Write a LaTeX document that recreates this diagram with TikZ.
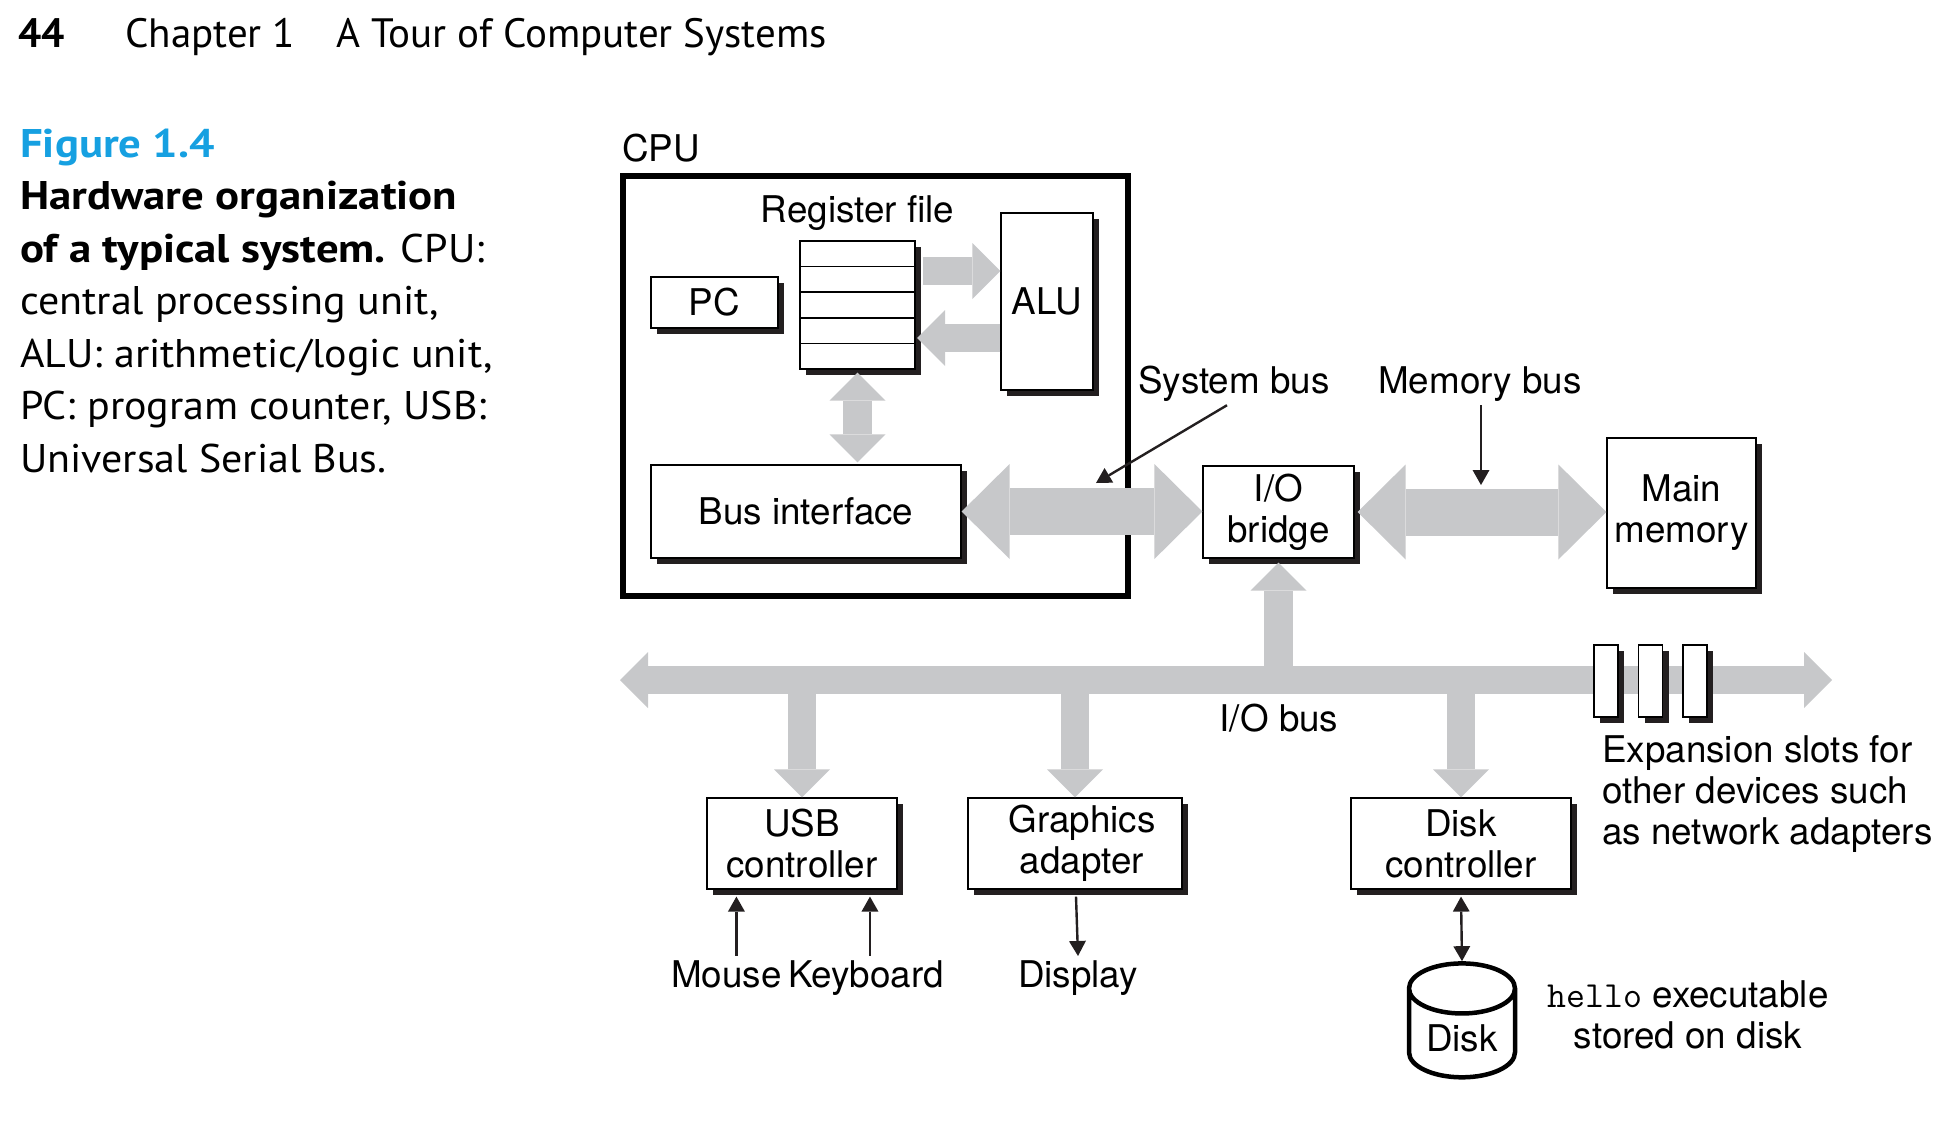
\documentclass[tikz,border=0pt]{standalone}
\usepackage{fontspec}
\setmainfont{TeX Gyre Heros}
\newfontfamily\headfont{PT Sans}
\newfontfamily\capfont{PT Sans}[FakeStretch=1.05, BoldFeatures={FakeStretch=1.12}]
\usetikzlibrary{positioning,calc,shadows,shapes.geometric,arrows.meta}

\definecolor{busgray}{RGB}{199,200,202}
\definecolor{figcyan}{RGB}{22,160,225}
\definecolor{shadowblack}{RGB}{35,31,32}

\tikzset{
box/.style={rectangle, draw, line width=1.2pt, fill=white, inner sep=0pt, align=center,
  drop shadow={shadow xshift=6pt, shadow yshift=-6pt, fill=shadowblack, opacity=1}},
slotbox/.style={box, minimum width=24pt, minimum height=72pt},
lbl/.style={inner sep=0pt, align=center},
bus/.style={draw=busgray, line width=28.5pt, >={Triangle[length=28pt, width=56pt, line width=0pt]}},
bigbus/.style={draw=busgray, line width=47pt, >={Triangle[length=48pt, width=95pt, line width=0pt]}},
ptr/.style={draw=shadowblack, line width=2.4pt, >={Triangle[length=15pt, width=17pt, line width=0pt]}}
}

\begin{document}
\begin{tikzpicture}[x=1pt, y=-1pt, font=\fontsize{36.8pt}{41pt}\selectfont]
\useasboundingbox (0,0) rectangle (1944,1122);

% header and caption
\node[lbl, anchor=base west, font=\headfont\fontsize{41pt}{41pt}\selectfont\bfseries] (pagenum) at (18,47) {44};
\node[lbl, anchor=base west, font=\headfont\fontsize{41pt}{41pt}\selectfont] (chapnum) at (125,47) {Chapter 1};
\node[lbl, anchor=base west, font=\headfont\fontsize{41pt}{41pt}\selectfont] (chaptitle) at (336,47) {A Tour of Computer Systems};
\node[lbl, anchor=base west, align=left, font=\capfont\fontsize{40pt}{52.5pt}\selectfont] (caption) at (20,472)
  {{\color{figcyan}\bfseries Figure 1.4}\\
   \textbf{Hardware organization}\\
   \textbf{of a typical system.} CPU:\\
   central processing unit,\\
   ALU: arithmetic/logic unit,\\
   PC: program counter, USB:\\
   Universal Serial Bus.};

% CPU chip
\node[draw, line width=6pt, minimum width=505pt, minimum height=420pt, inner sep=0pt] (cpu) at (875.5,386) {};
\node[lbl, anchor=base west] (cpulbl) at ($(cpu.north west)+(2,-12)$) {CPU};

\node[box, minimum width=115pt, minimum height=128pt] (regfile) at (857.5,305) {};
\foreach \i in {1,...,4}
  \draw[line width=1.2pt] ($(regfile.north west)!\i/5!(regfile.south west)$) -- ($(regfile.north east)!\i/5!(regfile.south east)$);
\node[lbl] (reglbl) [above=10pt of regfile] {Register file};
\node[box, minimum width=127pt, minimum height=51pt] (pc) at (714.5,302.5) {PC};
\node[box, minimum width=92pt, minimum height=177pt] (alu) at (1047,301.5) {ALU};
\node[box, minimum width=310pt, minimum height=93pt] (busif) at (806,511.5) {Bus interface};

% bridge and memory
\node[box, minimum width=151pt, minimum height=92pt] (bridge) at (1278.5,512) {I/O\\bridge};
\node[box, minimum width=149pt, minimum height=150pt] (mem) at (1681.5,513) {Main\\memory};
\node[lbl, anchor=base] (sysbuslbl) at (1234,393) {System bus};
\node[lbl, anchor=base] (membuslbl) at (1480,393) {Memory bus};

% I/O bus
\coordinate (iobusL) at (620,680);
\coordinate (iobusR) at (1832,680);
\draw[bus, <->] (iobusL) -- (iobusR);
\node[lbl, anchor=base] (iobuslbl) at (1279,731) {I/O bus};
\foreach \i in {0,1,2}
  \node[slotbox] (slot\i) at (1606+44.5*\i,681) {};
\node[lbl, anchor=base west, align=left] (slotlbl) at (1602,844) {Expansion slots for\\other devices such\\as network adapters};

% devices
\node[box, minimum width=190pt, minimum height=91pt] (usb) at (802,843.5) {USB\\controller};
\node[box, minimum width=214pt, minimum height=91pt] (gfx) at (1075,843.5) {\hspace*{14pt}Graphics\\\hspace*{14pt}adapter};
\node[box, minimum width=220pt, minimum height=91pt] (dctrl) at (1461,843.5) {Disk\\controller};
\node[lbl, anchor=base west] (mouse) at (671,987) {Mouse};
\node[lbl, anchor=base east] (keyboard) at (944,987) {Keyboard};
\node[lbl, anchor=base] (display) at (1078,987) {Display};
\node[draw, cylinder, shape border rotate=90, aspect=0.7, line width=4.5pt, minimum width=106pt, minimum height=113pt, inner sep=0pt, text height=36pt] (disk) at (1462,1034) {Disk};
\node[lbl, anchor=base] (hellolbl) at (1688,1048) {\texttt{hello} executable\\stored on disk};

% fat buses
\draw[bus, ->] ($(regfile.east)+(7,-34)$) -- ($(alu.west)+(0,-30.5)$);
\draw[bus, ->] ($(alu.west)+(0,36.5)$) -- ($(regfile.east)+(1.5,33)$);
\draw[bus, <->] ($(regfile.south)+(0,3)$) -- ($(regfile.south |- busif.north)+(0,-2)$);
\draw[bigbus, <->] (busif.east) -- (busif.east -| bridge.west);
\coordinate (membusL) at ($(bridge.east)+(3,0)$);
\draw[bigbus, <->] (membusL) -- (membusL -| mem.west);
\draw[bus, ->] (bridge.south |- iobusL) -- ($(bridge.south)+(0,4)$);
\draw[bus, ->] (usb.north |- iobusL) -- (usb.north);
\draw[bus, ->] (gfx.north |- iobusL) -- (gfx.north);
\draw[bus, ->] (dctrl.north |- iobusL) -- (dctrl.north);

% pointers
\coordinate (sysbustip) at (1096,483);
\coordinate (membustip) at (1481,485);
\draw[ptr, ->] ($(sysbuslbl.south)+(-7,4)$) -- (sysbustip);
\draw[ptr, ->] ($(membuslbl.south)+(1,4)$) -- (membustip);
\coordinate (usbfoot) at ($(usb.south)+(0,7)$);
\coordinate (mousept) at ($(mouse.north)+(10,-4)$);
\coordinate (keypt) at ($(keyboard.north)+(4,-4)$);
\draw[ptr, ->] (mousept) -- (mousept |- usbfoot);
\draw[ptr, ->] (keypt) -- (keypt |- usbfoot);
\draw[ptr, ->] ($(gfx.south)+(1,7)$) -- ($(display.north)+(0,-4)$);
\draw[ptr, <->] ($(dctrl.south)+(0,7)$) -- (disk.north);
\end{tikzpicture}
\end{document}
